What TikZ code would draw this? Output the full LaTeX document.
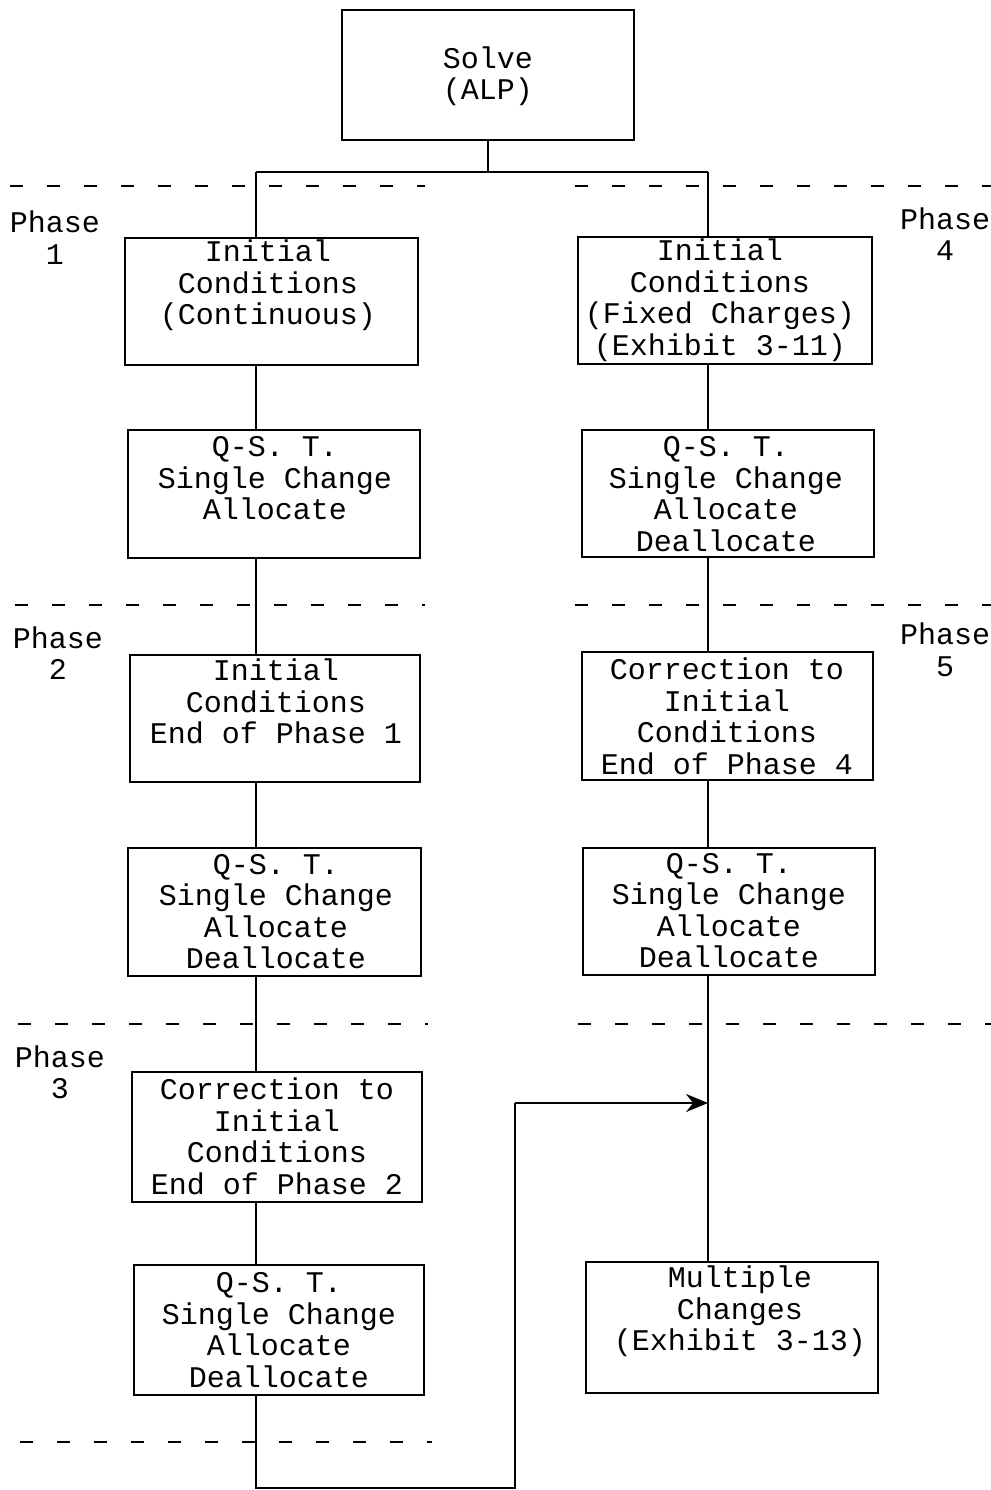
\documentclass[tikz,border=0pt]{standalone}
\usepackage{fontspec}
\setmainfont{Liberation Mono}
\usetikzlibrary{arrows.meta}
\begin{document}
\begin{tikzpicture}[x=0.5pt,y=-0.5pt,
  bx/.style 2 args={draw, line width=1.1pt, inner sep=0pt, minimum width=#1*0.5pt, minimum height=#2*0.5pt},
  txt/.style={font=\fontsize{15}{15.75}\selectfont, align=center, inner sep=0pt},
  link/.style={line width=1pt},
  phaseline/.style={line width=1.2pt, dash pattern=on 6.5pt off 12pt}]
\useasboundingbox (0,0) rectangle (991,1490);
% boxes
\node[bx={292}{130}] (S) at (488,75) {};
\node[bx={293}{127}] (L1) at (271.5,301.5) {};
\node[bx={294}{127}] (R1) at (725,300.5) {};
\node[bx={292}{128}] (L2) at (274,494) {};
\node[bx={292}{127}] (R2) at (728,493.5) {};
\node[bx={290}{127}] (L3) at (275,718.5) {};
\node[bx={291}{128}] (R3) at (727.5,716) {};
\node[bx={293}{128}] (L4) at (274.5,912) {};
\node[bx={292}{127}] (R4) at (729,911.5) {};
\node[bx={290}{130}] (L5) at (277,1137) {};
\node[bx={290}{130}] (L6) at (279,1330) {};
\node[bx={292}{131}] (R5) at (732,1327.5) {};
% texts
\node[txt] (St) at (488,76) {Solve\\(ALP)};
\node[txt] (L1t) at (268,285.5) {Initial\\Conditions\\(Continuous)};
\node[txt] (R1t) at (720,300) {Initial\\Conditions\\(Fixed Charges)\\(Exhibit 3-11)};
\node[txt] (L2t) at (275,478.5) {Q-S. T.\\Single Change\\Allocate};
\node[txt] (R2t) at (726,494) {Q-S. T.\\Single Change\\Allocate\\Deallocate};
\node[txt] (L3t) at (276,701.5) {Initial\\Conditions\\End of Phase 1};
\node[txt] (R3t) at (727,716.5) {Correction to\\Initial\\Conditions\\End of Phase 4};
\node[txt] (L4t) at (276,911.5) {Q-S. T.\\Single Change\\Allocate\\Deallocate};
\node[txt] (R4t) at (729,910.5) {Q-S. T.\\Single Change\\Allocate\\Deallocate};
\node[txt] (L5t) at (277,1136.5) {Correction to\\Initial\\Conditions\\End of Phase 2};
\node[txt] (L6t) at (279,1330) {Q-S. T.\\Single Change\\Allocate\\Deallocate};
\node[txt] (R5t) at (740,1311.5) {Multiple\\Changes\\(Exhibit 3-13)};
% phase labels
\node[txt] (P1) at (55,237.5) {Phase\\1};
\node[txt] (P4) at (945,234) {Phase\\4};
\node[txt] (P2) at (58,653) {Phase\\2};
\node[txt] (P5) at (945,650) {Phase\\5};
\node[txt] (P3) at (60,1072.5) {Phase\\3};
% phase separators
\draw[phaseline] (10,186) -- (425,186);
\draw[phaseline] (575,186) -- (991,186);
\draw[phaseline] (15,605) -- (425,605);
\draw[phaseline] (575,605) -- (991,605);
\draw[phaseline] (18,1024) -- (428,1024);
\draw[phaseline] (578,1024) -- (991,1024);
\draw[phaseline] (20,1442) -- (432,1442);
% connectors
\coordinate (j) at (488,172);
\coordinate (lsp) at (256,172);
\coordinate (rsp) at (708,172);
\coordinate (b1) at (261,1488);
\coordinate (b2) at (515,1488);
\coordinate (b3) at (515,1103);
\draw[link] (S.south) -- (j);
\draw[link] (lsp) -- (rsp);
\draw[link] (lsp) -- (L1.north -| lsp);
\draw[link] (rsp) -- (R1.north -| rsp);
\draw[link] (L1.south -| lsp) -- (L2.north -| lsp);
\draw[link] (L2.south -| lsp) -- (L3.north -| lsp);
\draw[link] (L3.south -| lsp) -- (L4.north -| lsp);
\draw[link] (L4.south -| lsp) -- (L5.north -| lsp);
\draw[link] (L5.south -| lsp) -- (L6.north -| lsp);
\draw[link] (L6.south -| lsp) -- (b1 -| lsp) -- (b2) -- (b3);
\draw[link,-{Stealth[length=11pt,width=9pt]}] (b3) -- (b3 -| rsp);
\draw[link] (R1.south -| rsp) -- (R2.north -| rsp);
\draw[link] (R2.south -| rsp) -- (R3.north -| rsp);
\draw[link] (R3.south -| rsp) -- (R4.north -| rsp);
\draw[link] (R4.south -| rsp) -- (R5.north -| rsp);
\end{tikzpicture}
\end{document}
